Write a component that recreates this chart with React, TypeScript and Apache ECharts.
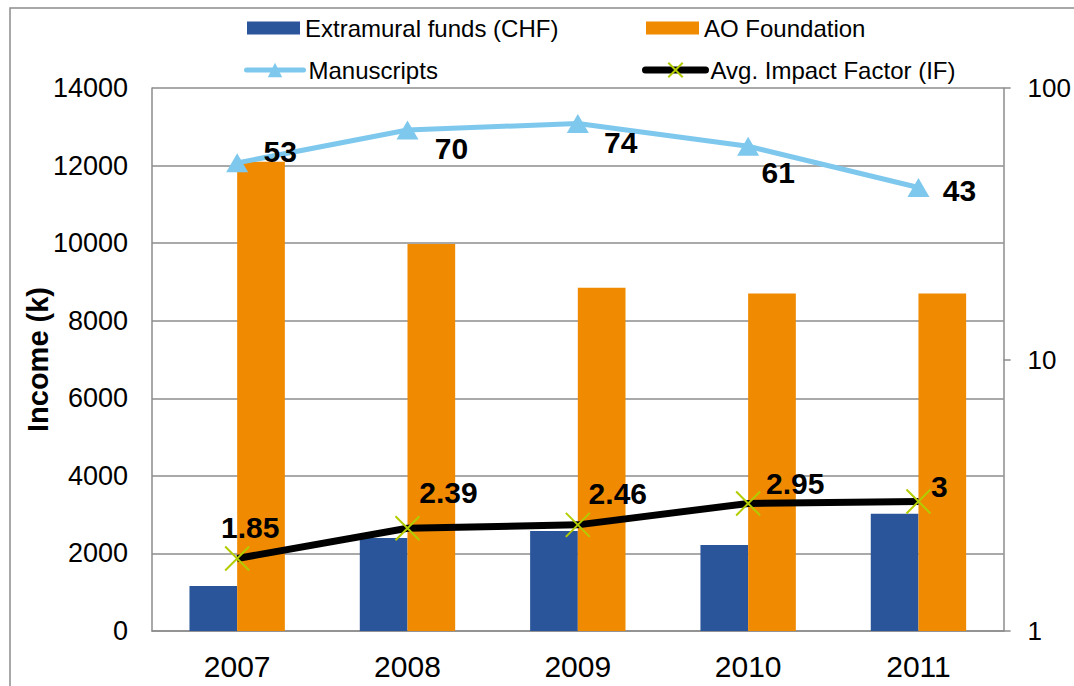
import React, { useEffect, useRef } from "react";
import * as echarts from "echarts";

const years = ["2007", "2008", "2009", "2010", "2011"];
const extramural = [1160, 2400, 2580, 2220, 3020];
const aoFoundation = [12100, 9980, 8850, 8700, 8700];
const manuscripts = [53, 70, 74, 61, 43];
const impactFactor = [1.85, 2.39, 2.46, 2.95, 3];

const manuscriptLabelOffsets = [[43, -11], [44, 18], [43, 19], [30, 26], [41, 3]];
const ifLabelOffsets = [[13, -31], [41, -36], [40, -31], [47, -20], [21, -15]];

const FONT = "'Liberation Sans', Arial, sans-serif";
const GRAY = "#8c8c8c";

export default function App() {
  const ref = useRef<HTMLDivElement>(null);
  useEffect(() => {
    if (!ref.current) return;
    const chart = echarts.init(ref.current, null, { renderer: "svg" });
    const labelBase = {
      show: true,
      position: "inside",
      fontFamily: FONT,
      fontSize: 30,
      fontWeight: "bold",
      color: "#000",
    };
    const legendBase = {
      orient: "horizontal",
      padding: 0,
      itemWidth: 53,
      itemHeight: 13,
      itemGap: 6,
      textStyle: { fontFamily: FONT, fontSize: 24, color: "#000" },
      selectedMode: false,
    };
    chart.setOption({
      animation: false,
      backgroundColor: "#fff",
      graphic: [
        {
          type: "rect",
          shape: { x: 10, y: 8, width: 1100, height: 720 },
          style: { fill: "none", stroke: GRAY, lineWidth: 1.5 },
          silent: true,
        },
      ],
      legend: [
        { ...legendBase, left: 247, top: 16, data: [{ name: "Extramural funds (CHF)", icon: "rect" }] },
        { ...legendBase, left: 646, top: 16, data: [{ name: "AO Foundation", icon: "rect" }] },
        {
          ...legendBase,
          left: 244,
          top: 58,
          itemWidth: 57,
          itemHeight: 18,
          lineStyle: { width: 5, cap: "round" },
          data: ["Manuscripts"],
        },
        {
          ...legendBase,
          left: 642,
          top: 58,
          itemWidth: 60,
          itemHeight: 18,
          lineStyle: { width: 7, cap: "round" },
          data: ["Avg. Impact Factor (IF)"],
        },
      ],
      grid: { left: 152, right: 69, top: 88, bottom: 55 },
      xAxis: {
        type: "category",
        data: years,
        axisLine: { show: true, lineStyle: { color: GRAY, width: 1.5 } },
        axisTick: { show: false },
        axisLabel: { fontFamily: FONT, fontSize: 30, color: "#000", margin: 20 },
      },
      yAxis: [
        {
          type: "value",
          min: 0,
          max: 14000,
          interval: 2000,
          name: "Income (k)",
          nameLocation: "middle",
          nameGap: 100,
          nameMoveOverlap: false,
          nameTextStyle: { fontFamily: FONT, fontSize: 29, fontWeight: "bold", color: "#000" },
          axisLine: { show: true, lineStyle: { color: GRAY, width: 1.5 } },
          axisTick: { show: false },
          axisLabel: {
            fontFamily: FONT,
            fontSize: 27,
            color: "#000",
            margin: 24,
            formatter: (v: number) => String(v),
          },
          splitLine: { show: true, lineStyle: { color: GRAY, width: 1.5 } },
        },
        {
          type: "log",
          logBase: 10,
          min: 1,
          max: 100,
          position: "right",
          axisLine: { show: true, lineStyle: { color: GRAY, width: 1.5 } },
          axisTick: { show: true, inside: false, length: 7, lineStyle: { color: GRAY, width: 1.5 } },
          axisLabel: {
            fontFamily: FONT,
            fontSize: 26,
            color: "#000",
            margin: 24,
            formatter: (v: number) => String(v),
          },
          splitLine: { show: false },
          minorTick: { show: false },
        },
      ],
      series: [
        {
          name: "Extramural funds (CHF)",
          type: "bar",
          data: extramural,
          barGap: "0%",
          barCategoryGap: "44%",
          itemStyle: { color: "#2B559B" },
        },
        {
          name: "AO Foundation",
          type: "bar",
          data: aoFoundation,
          itemStyle: { color: "#F08A00" },
        },
        {
          name: "Manuscripts",
          type: "line",
          yAxisIndex: 1,
          data: manuscripts.map((v, i) => ({
            value: v,
            label: { ...labelBase, offset: manuscriptLabelOffsets[i] },
          })),
          symbol: "triangle",
          symbolSize: [22, 19],
          lineStyle: { color: "#7EC8EE", width: 5 },
          itemStyle: { color: "#7EC8EE" },
          z: 5,
        },
        {
          name: "Avg. Impact Factor (IF)",
          type: "line",
          yAxisIndex: 1,
          data: impactFactor.map((v, i) => ({
            value: v,
            label: { ...labelBase, offset: ifLabelOffsets[i] },
          })),
          symbol: "path://M0,0L10,10M10,0L0,10",
          symbolSize: 24,
          lineStyle: { color: "#000", width: 7 },
          itemStyle: { color: "none", borderColor: "#B3CC00", borderWidth: 2 },
          z: 6,
        },
      ],
    });
    return () => chart.dispose();
  }, []);
  return <div ref={ref} style={{ position: "fixed", left: 0, top: 0, width: 1074, height: 686 }} />;
}
